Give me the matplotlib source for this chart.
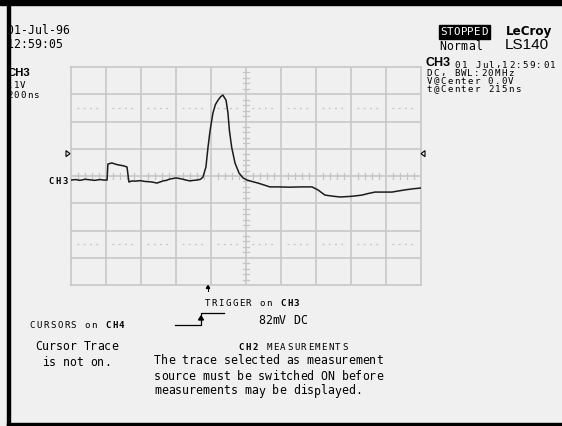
import matplotlib
matplotlib.use("Agg")
import matplotlib.pyplot as plt
from matplotlib.patches import Rectangle, Polygon

# ----------------------------------------------------------------------
# CH3 acquisition: 200 ns/div, 0.1 V/div, t@Center 215 ns
# ----------------------------------------------------------------------
t_ns = [-785, -760, -734, -705, -676, -650, -619, -596, -579, -574, -562, -551,
        -534, -516, -499, -482, -465, -454, -436, -419, -390, -362, -340, -322,
        -294, -276, -259, -240, -219, -200, -185, -168, -151, -128, -105, -85,
        -65, -45, -31, -14, -2, 10, 26, 40, 55, 70, 83, 101, 112, 120, 133, 152,
        175, 198, 218, 238, 260, 284, 318, 352, 400, 466, 530, 592, 626, 666,
        710, 752, 780, 809, 840, 878, 915, 952, 1000, 1049, 1085, 1123, 1170,
        1215]
v_mv = [-15, -13, -16, -12, -14, -16, -13, -15, -15, 44, 46, 48,
        44, 41, 39, 37, 33, -22, -18, -19, -17, -20, -21, -22,
        -26, -22, -18, -16, -11, -9, -7, -9, -11, -15, -18, -16,
        -15, -12, -4, 33, 106, 168, 231, 262, 278, 291, 297, 278, 231, 168, 106, 48,
        11, -7, -14, -18, -22, -26, -33, -40, -40, -41, -40, -40, -51, -70,
        -74, -77, -76, -75, -73, -70, -64, -59, -59, -59, -55, -51, -47,
        -44]

t_left, t_right = -785, 1215     # 10 divisions of 200 ns
v_low, v_high = -400, 400        # 8 divisions of 100 mV
t_center = 215
trig_level_mv = 82

BG = "#f0f0f0"
GRID = "#c8c8c8"

W, H = 562, 426
fig = plt.figure(figsize=(W / 100, H / 100), dpi=100, facecolor=BG)

# ---------------- graticule + trace ----------------
gx0, gy0, gx1, gy1 = 71, 67, 421, 285
ax = fig.add_axes([gx0 / W, 1 - gy1 / H, (gx1 - gx0) / W, (gy1 - gy0) / H])
ax.set_facecolor(BG)
ax.set_xlim(t_left, t_right)
ax.set_ylim(v_low, v_high)
ax.set_xticks([])
ax.set_yticks([])
for s in ax.spines.values():
    s.set_color(GRID)
    s.set_linewidth(1.2)

for t in range(t_left + 200, t_right, 200):
    ax.axvline(t, color=GRID, lw=1.2, zorder=1)
for v in range(v_low + 100, v_high, 100):
    ax.axhline(v, color=GRID, lw=1.2, zorder=1)

# minor ticks along the centre axes
for i in range(1, 50):
    t = t_left + i * 40
    if i % 5:
        ax.plot([t, t], [-11, 11], color="#c4c4c4", lw=0.9, zorder=1)
for i in range(1, 40):
    v = v_low + i * 20
    if i % 5:
        ax.plot([t_center - 17, t_center + 17], [v, v], color="#c4c4c4",
                lw=0.9, zorder=1)

# dotted guide lines at +/- 2.5 div
for v in (250, -250):
    for t in range(t_left, t_right, 200):
        ax.plot([t + 34, t + 166], [v, v], color="#c4c4c4", lw=0.9,
                ls=(0, (1.5, 3.5)), zorder=1)

ax.plot(t_ns, v_mv, color="#1c1c1c", lw=1.1, zorder=3)

# ---------------- screen overlay (pixel coords) ----------------
ov = fig.add_axes([0, 0, 1, 1])
ov.set_xlim(0, W)
ov.set_ylim(H, 0)
ov.axis("off")
ov.patch.set_alpha(0)

MONO = "DejaVu Sans Mono"


def mono(x, y, parts, size=8.3, pitch=6.9, color="black"):
    """Place fixed-pitch text one character at a time."""
    if isinstance(parts, str):
        parts = [(parts, "normal")]
    i = 0
    for text, weight in parts:
        for ch in text:
            ov.text(x + i * pitch + pitch / 2, y, ch, ha="center", va="center",
                    fontsize=size, family=MONO, weight=weight, color=color)
            i += 1


SMALL = 6.6

# top-left: date / time / channel setup
mono(6.5, 31, "01-Jul-96", pitch=7.0)
mono(6.5, 45, "12:59:05", pitch=7.0)
ov.text(8, 73, "CH3", ha="left", va="center", fontsize=8.2,
        family="Liberation Sans", weight="bold")
mono(7, 85, ".1V", size=SMALL, pitch=6.4)
mono(7, 96, "200ns", size=SMALL, pitch=6.4)

# top-right: status and model
ov.add_patch(Rectangle((439, 25), 51, 14, color="black", zorder=2))
mono(440, 32, "STOPPED", size=7.8, pitch=6.8, color="white")
mono(439, 47, "Normal", size=8.3, pitch=7.2)
ov.text(506, 31, "LeCroy", ha="left", va="center", fontsize=8.6,
        family="DejaVu Sans", weight="bold")
ov.text(505, 45, "LS140", ha="left", va="center", fontsize=11,
        family="Liberation Sans")
ov.text(426, 63, "CH3", ha="left", va="center", fontsize=9,
        family="Liberation Sans", weight="bold")
mono(454, 65, "01 Jul,12:59:01", size=SMALL, pitch=6.8)
mono(426, 73, "DC, BWL:20MHz", size=SMALL, pitch=6.8)
mono(426, 81, "V@Center 0.0V", size=SMALL, pitch=6.8)
mono(426, 89.5, "t@Center 215ns", size=SMALL, pitch=6.8)

# trigger level markers and ground marker
ty = 176 - trig_level_mv / 100 * 27.25
ov.add_patch(Polygon([(66, ty - 3), (66, ty + 3), (70, ty)], closed=True,
                     fill=False, ec="black", lw=0.8))
ov.add_patch(Polygon([(425, ty - 3), (425, ty + 3), (421, ty)], closed=True,
                     fill=False, ec="black", lw=0.8))
mono(47, 181, [("CH3", "bold")], size=6.4, pitch=7.2)

# trigger position arrow under the graticule
ov.plot([208, 208], [286, 291], color="black", lw=0.7)
ov.add_patch(Polygon([(206.3, 288.5), (209.7, 288.5), (208, 285.5)],
                     closed=True, color="black"))

mono(204, 303, [("TRIGGER on ", "normal"), ("CH3", "bold")], size=SMALL,
     pitch=6.86)
ov.plot([175, 201, 201, 224], [325, 325, 313, 313], color="black", lw=0.9)
ov.add_patch(Polygon([(198.5, 320), (203.5, 320), (201, 316)], closed=True,
                     color="black"))
mono(258, 321, "82mV DC", size=8.3, pitch=7.0)

# cursor and measurement panels
mono(29, 325, [("CURSORS on ", "normal"), ("CH4", "bold")], size=SMALL,
     pitch=6.86)
mono(35, 347, "Cursor Trace", size=8.3, pitch=6.9)
mono(42, 362, "is not on.", size=8.3, pitch=6.9)
mono(238, 347, [("CH2", "bold"), (" MEASUREMENTS", "normal")], size=SMALL,
     pitch=6.9)
mono(154, 361, "The trace selected as measurement", size=8.3, pitch=6.94)
mono(154, 376, "source must be switched ON before", size=8.3, pitch=6.94)
mono(154, 391, "measurements may be displayed.", size=8.3, pitch=6.94)

# screen frame
ov.add_patch(Rectangle((0, 0), W, 5, color="black", zorder=5))
ov.add_patch(Rectangle((7, 0), 2.5, H, color="black", zorder=5))
ov.add_patch(Rectangle((7, 423), W, 3, color="black", zorder=5))

fig.savefig("out.png", dpi=100, facecolor=BG)
